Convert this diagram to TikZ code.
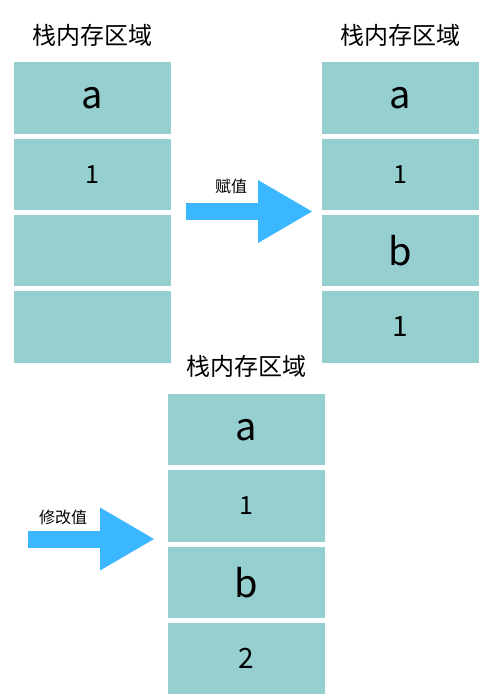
\documentclass[tikz,border=0pt]{standalone}
\usepackage{fontspec}
\setmainfont{Noto Sans CJK SC}
\usetikzlibrary{positioning,chains,arrows.meta}
\definecolor{cellteal}{RGB}{150,207,208}
\definecolor{arrowblue}{RGB}{59,183,255}

\begin{document}
\begin{tikzpicture}[x=1pt,y=-1pt,
  cell/.style={fill=cellteal,minimum width=157pt,minimum height=71.5pt,
    inner sep=0pt,outer sep=0pt,font=\fontsize{25}{28}\selectfont},
  letter/.style={font=\fontsize{38}{42}\selectfont},
  bignum/.style={font=\fontsize{28}{32}\selectfont},
  title/.style={inner sep=0pt,font=\fontsize{24}{28}\selectfont},
  lbl/.style={inner sep=0pt,font=\fontsize{16}{19}\selectfont},
  bigarrow/.style={arrowblue,line width=17pt,
    -{Triangle[length=54pt,width=63pt,line width=0pt]}}
]
\useasboundingbox (0,0) rectangle (492,696);

% the stack before
\begin{scope}[start chain=going below,node distance=4.8pt]
  \node[cell,on chain,letter] (l1) at (92.5,98) {a};
  \node[cell,on chain] (l2) {1};
  \node[cell,on chain] (l3) {};
  \node[cell,on chain] (l4) {};
\end{scope}

% the stack after the assignment
\begin{scope}[start chain=going below,node distance=4.8pt]
  \node[cell,on chain,letter] (r1) at (400,98) {a};
  \node[cell,on chain] (r2) {1};
  \node[cell,on chain,letter] (r3) {b};
  \node[cell,on chain,bignum] (r4) {1};
\end{scope}

% the stack after the change
\begin{scope}[start chain=going below,node distance=4.8pt]
  \node[cell,on chain,letter] (b1) at (246.5,429.7) {a};
  \node[cell,on chain] (b2) {1};
  \node[cell,on chain,letter] (b3) {b};
  \node[cell,on chain,bignum] (b4) {2};
\end{scope}

% the titles
\node[title,above=16pt of l1] (ltitle) {栈内存区域};
\node[title,above=16pt of r1] (rtitle) {栈内存区域};
\node[title,above=16pt of b1] (btitle) {栈内存区域};

% the arrows
\coordinate (assignstart) at (186,211.5);
\coordinate (assignend) at (312,211.5);
\draw[bigarrow] (assignstart) -- (assignend);
\node[lbl] (assign) at (231,186) {赋值};

\coordinate (changestart) at (28,539);
\coordinate (changeend) at (154,539);
\draw[bigarrow] (changestart) -- (changeend);
\node[lbl] (change) at (63,517) {修改值};
\end{tikzpicture}
\end{document}
